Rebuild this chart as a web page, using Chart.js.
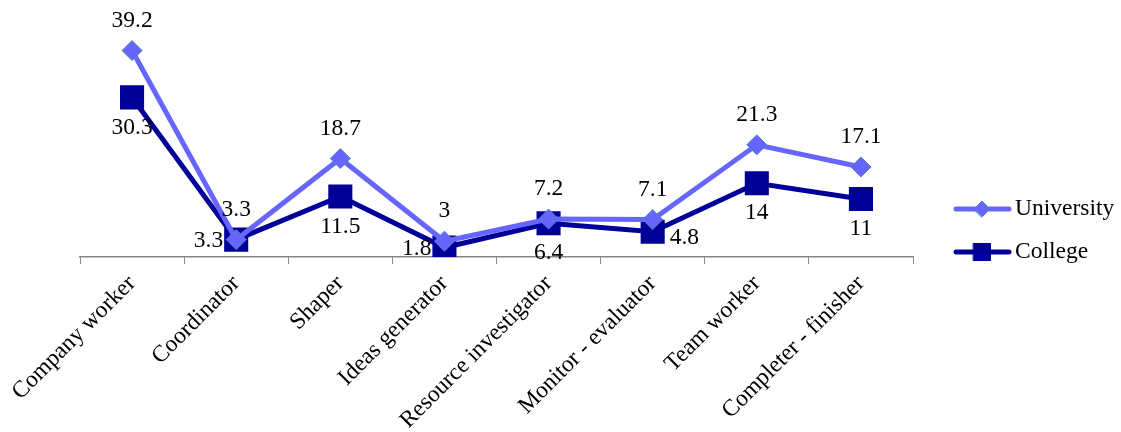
<!DOCTYPE html>
<html>
<head>
<meta charset="utf-8">
<script src="https://cdn.jsdelivr.net/npm/chart.js@4.4.0/dist/chart.umd.min.js"></script>
<style>
  body { margin: 0; background: #fff; }
  #wrap { position: relative; width: 1121px; height: 432px; }
</style>
</head>
<body>
<div id="wrap"><canvas id="roles" width="1121" height="432"></canvas></div>
<script>
const roles = ['Company worker', 'Coordinator', 'Shaper', 'Ideas generator',
  'Resource investigator', 'Monitor - evaluator', 'Team worker', 'Completer - finisher'];
const university = [39.2, 3.3, 18.7, 3, 7.2, 7.1, 21.3, 17.1];
const college = [30.3, 3.3, 11.5, 1.8, 6.4, 4.8, 14, 11];

// where each value label sits relative to its point
const universityLabelPos = ['above', 'above', 'above', 'above', 'above', 'above', 'above', 'above'];
const collegeLabelPos = ['below', 'left', 'below', 'left', 'below', 'right', 'below', 'below'];

const FONT = '"Liberation Serif", "Times New Roman", serif';
const FSIZE = 23.5;
const uniColor = '#6666ff';
const colColor = '#000099';

const valueLabels = {
  id: 'valueLabels',
  afterDatasetsDraw(chart) {
    const ctx = chart.ctx;
    ctx.save();
    ctx.font = FSIZE + 'px ' + FONT;
    ctx.fillStyle = '#000';
    ctx.textBaseline = 'middle';
    chart.data.datasets.forEach((ds, i) => {
      const meta = chart.getDatasetMeta(i);
      meta.data.forEach((pt, j) => {
        const pos = ds.labelPos[j];
        let x = pt.x, y = pt.y;
        ctx.textAlign = 'center';
        if (pos === 'above') y -= 30;
        else if (pos === 'below') y += 30;
        else if (pos === 'left') { ctx.textAlign = 'right'; x -= 13; y += 1; }
        else if (pos === 'right') { ctx.textAlign = 'left'; x += 17; y += 6; }
        ctx.fillText(String(ds.data[j]), x, y);
      });
    });
    ctx.restore();
  }
};

const sideLegend = {
  id: 'sideLegend',
  afterDraw(chart) {
    const ctx = chart.ctx;
    const items = [
      { label: 'University', color: uniColor, y: 209, style: 'rectRot', r: 8, border: '#4f81bd' },
      { label: 'College', color: colColor, y: 252, style: 'rect', r: 12, border: colColor }
    ];
    ctx.save();
    items.forEach(it => {
      ctx.strokeStyle = it.color;
      ctx.lineWidth = 5;
      ctx.lineCap = 'round';
      ctx.beginPath();
      ctx.moveTo(956, it.y);
      ctx.lineTo(1009, it.y);
      ctx.stroke();
      ctx.fillStyle = it.color;
      ctx.strokeStyle = it.border;
      ctx.lineWidth = 1;
      Chart.helpers.drawPoint(ctx, { pointStyle: it.style, radius: it.r, borderWidth: 1, rotation: 0 }, 982, it.y);
      ctx.fillStyle = '#000';
      ctx.font = FSIZE + 'px ' + FONT;
      ctx.textAlign = 'left';
      ctx.textBaseline = 'middle';
      ctx.fillText(it.label, 1015, it.y);
    });
    ctx.restore();
  }
};

new Chart(document.getElementById('roles'), {
  type: 'line',
  data: {
    labels: roles,
    datasets: [
      {
        label: 'University',
        data: university,
        labelPos: universityLabelPos,
        borderColor: uniColor,
        backgroundColor: uniColor,
        pointBorderColor: '#4f81bd',
        pointBorderWidth: 1,
        borderWidth: 5,
        pointStyle: 'rectRot',
        pointRadius: 10,
        pointHoverRadius: 10,
        tension: 0
      },
      {
        label: 'College',
        data: college,
        labelPos: collegeLabelPos,
        borderColor: colColor,
        backgroundColor: colColor,
        pointBorderColor: colColor,
        borderWidth: 5,
        pointStyle: 'rect',
        pointRadius: 13.5,
        pointHoverRadius: 13.5,
        tension: 0
      }
    ]
  },
  options: {
    responsive: false,
    animation: false,
    layout: { padding: { left: 80, right: 208, top: 20, bottom: 0 } },
    plugins: { legend: { display: false }, tooltip: { enabled: false } },
    scales: {
      x: {
        offset: true,
        grid: { offset: true, drawOnChartArea: false, color: '#868686', tickLength: 7 },
        border: { color: '#868686', width: 1.5 },
        ticks: {
          color: '#000',
          font: { family: FONT, size: FSIZE },
          minRotation: 45,
          maxRotation: 45,
          padding: 6,
          autoSkip: false
        },
        afterFit(scale) {
          scale.height = 175;
          scale.paddingLeft = 0;
          scale.paddingRight = 0;
        }
      },
      y: { display: false, min: 0, max: 45 }
    }
  },
  plugins: [valueLabels, sideLegend]
});
</script>
</body>
</html>
